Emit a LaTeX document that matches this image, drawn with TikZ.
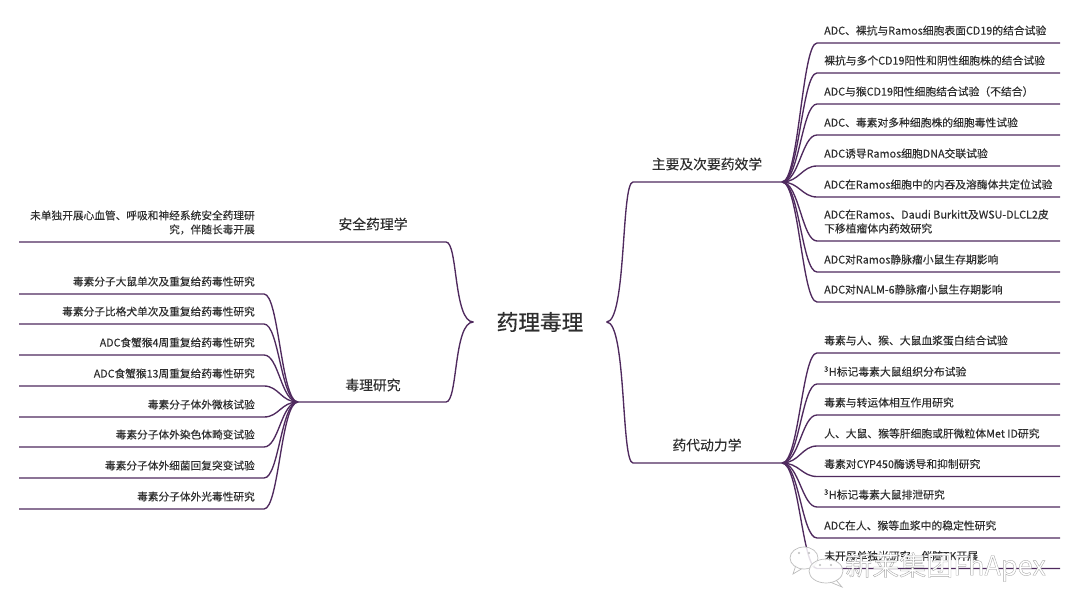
\documentclass[tikz,border=0pt]{standalone}
\usepackage{fontspec}
\setmainfont[FakeBold=0.12]{Noto Sans CJK SC}
\newfontfamily\rootfont[FakeBold=0.35]{Noto Sans CJK SC}
\newfontfamily\markfont{Noto Sans CJK SC}
\usepackage{xcolor}
\usepackage{tikz}
\usetikzlibrary{positioning}
\definecolor{tlink}{HTML}{4F2A5E}
\definecolor{ttext}{HTML}{2E2E2E}
\definecolor{tmark}{HTML}{BDBDBD}

\begin{document}
\begin{tikzpicture}[x=1pt, y=-1pt, text=ttext, node distance=7pt,
  link/.style={draw=tlink, line width=1.35pt},
  rootbox/.style={inner sep=0pt, font=\rootfont\fontsize{21.7}{24}\selectfont},
  branchbox/.style={inner sep=0pt, font=\fontsize{13.8}{16}\selectfont},
  leafbox/.style={inner sep=0pt, font=\fontsize{10.8}{14}\selectfont, align=left},
  sideleaf/.style={leafbox, font=\fontsize{10.7}{14}\selectfont},
  markline/.style={draw=tmark, line width=0.7pt, fill=white, fill opacity=0.85}]
\useasboundingbox (0,0) rectangle (1080,591);
\node[rootbox] (root) at (540,322) {药理毒理};
\coordinate[left=23pt of root] (rootl);
\coordinate[right=23pt of root] (rootr);
\coordinate (endr) at (1060,0);
\coordinate (endl) at (19,0);

% right side, pharmacodynamics
\node[branchbox] (pd) at (707,164) {主要及次要药效学};
\coordinate (bpd) at (633,182);
\coordinate (hubpd) at (782,182);
\draw[link] (rootr) .. controls +(20,0) and +(-12,0) .. (bpd) -- (hubpd);
\coordinate (pd1) at (817,43);
\coordinate (pd2) at (817,73);
\coordinate (pd3) at (817,104);
\coordinate (pd4) at (817,135);
\coordinate (pd5) at (817,166);
\coordinate (pd6) at (817,197);
\coordinate (pd7) at (817,241);
\coordinate (pd8) at (817,272);
\coordinate (pd9) at (817,302);
\node[leafbox, right=of pd1, yshift=12.5pt] (tpd1) {ADC、裸抗与Ramos细胞表面CD19的结合试验};
\node[leafbox, right=of pd2, yshift=12.5pt] (tpd2) {裸抗与多个CD19阳性和阴性细胞株的结合试验};
\node[leafbox, right=of pd3, yshift=12.5pt] (tpd3) {ADC与猴CD19阳性细胞结合试验（不结合）};
\node[leafbox, right=of pd4, yshift=12.5pt] (tpd4) {ADC、毒素对多种细胞株的细胞毒性试验};
\node[leafbox, right=of pd5, yshift=12.5pt] (tpd5) {ADC诱导Ramos细胞DNA交联试验};
\node[leafbox, right=of pd6, yshift=12.5pt] (tpd6) {ADC在Ramos细胞中的内吞及溶酶体共定位试验};
\node[leafbox, right=of pd7, yshift=19.5pt] (tpd7) {ADC在Ramos、Daudi Burkitt及WSU-DLCL2皮\\下移植瘤体内药效研究};
\node[leafbox, right=of pd8, yshift=12.5pt] (tpd8) {ADC对Ramos静脉瘤小鼠生存期影响};
\node[leafbox, right=of pd9, yshift=12.5pt] (tpd9) {ADC对NALM-6静脉瘤小鼠生存期影响};
\draw[link] (hubpd) .. controls +(17,0) and +(-15,0) .. (pd1) -- (pd1 -| endr);
\draw[link] (hubpd) .. controls +(17,0) and +(-15,0) .. (pd2) -- (pd2 -| endr);
\draw[link] (hubpd) .. controls +(17,0) and +(-15,0) .. (pd3) -- (pd3 -| endr);
\draw[link] (hubpd) .. controls +(17,0) and +(-15,0) .. (pd4) -- (pd4 -| endr);
\draw[link] (hubpd) .. controls +(17,0) and +(-15,0) .. (pd5) -- (pd5 -| endr);
\draw[link] (hubpd) .. controls +(17,0) and +(-15,0) .. (pd6) -- (pd6 -| endr);
\draw[link] (hubpd) .. controls +(17,0) and +(-15,0) .. (pd7) -- (pd7 -| endr);
\draw[link] (hubpd) .. controls +(17,0) and +(-15,0) .. (pd8) -- (pd8 -| endr);
\draw[link] (hubpd) .. controls +(17,0) and +(-15,0) .. (pd9) -- (pd9 -| endr);

% right side, pharmacokinetics
\node[branchbox] (pk) at (707,445) {药代动力学};
\coordinate (bpk) at (633,463);
\coordinate (hubpk) at (782,463);
\draw[link] (rootr) .. controls +(20,0) and +(-12,0) .. (bpk) -- (hubpk);
\coordinate (pk1) at (817,353);
\coordinate (pk2) at (817,384);
\coordinate (pk3) at (817,415);
\coordinate (pk4) at (817,446);
\coordinate (pk5) at (817,476.5);
\coordinate (pk6) at (817,507);
\coordinate (pk7) at (817,538);
\coordinate (pk8) at (817,568.5);
\node[leafbox, right=of pk1, yshift=12.5pt] (tpk1) {毒素与人、猴、大鼠血浆蛋白结合试验};
\node[leafbox, right=of pk2, yshift=12.5pt] (tpk2) {\textsuperscript{3}H标记毒素大鼠组织分布试验};
\node[leafbox, right=of pk3, yshift=12.5pt] (tpk3) {毒素与转运体相互作用研究};
\node[leafbox, right=of pk4, yshift=12.5pt] (tpk4) {人、大鼠、猴等肝细胞或肝微粒体Met ID研究};
\node[leafbox, right=of pk5, yshift=12.5pt] (tpk5) {毒素对CYP450酶诱导和抑制研究};
\node[leafbox, right=of pk6, yshift=12.5pt] (tpk6) {\textsuperscript{3}H标记毒素大鼠排泄研究};
\node[leafbox, right=of pk7, yshift=12.5pt] (tpk7) {ADC在人、猴等血浆中的稳定性研究};
\node[leafbox, right=of pk8, yshift=12.5pt] (tpk8) {未开展单独光研究，伴随TK开展};
\draw[link] (hubpk) .. controls +(17,0) and +(-15,0) .. (pk1) -- (pk1 -| endr);
\draw[link] (hubpk) .. controls +(17,0) and +(-15,0) .. (pk2) -- (pk2 -| endr);
\draw[link] (hubpk) .. controls +(17,0) and +(-15,0) .. (pk3) -- (pk3 -| endr);
\draw[link] (hubpk) .. controls +(17,0) and +(-15,0) .. (pk4) -- (pk4 -| endr);
\draw[link] (hubpk) .. controls +(17,0) and +(-15,0) .. (pk5) -- (pk5 -| endr);
\draw[link] (hubpk) .. controls +(17,0) and +(-15,0) .. (pk6) -- (pk6 -| endr);
\draw[link] (hubpk) .. controls +(17,0) and +(-15,0) .. (pk7) -- (pk7 -| endr);
\draw[link] (hubpk) .. controls +(17,0) and +(-15,0) .. (pk8) -- (pk8 -| endr);

% left side, safety
\node[branchbox] (sp) at (373,224) {安全药理学};
\coordinate (bsp) at (446,242);
\coordinate (sp1) at (264,242);
\node[sideleaf, left=9pt of sp1, yshift=19.5pt, align=right] (tsp1) {未单独开展心血管、呼吸和神经系统安全药理研\\究，伴随长毒开展};
\draw[link] (rootl) .. controls +(-20,0) and +(12,0) .. (bsp) -- (bsp -| endl);

% left side, toxicology
\node[branchbox] (tx) at (373,385) {毒理研究};
\coordinate (btx) at (446,402);
\coordinate (hubtx) at (298,402);
\draw[link] (rootl) .. controls +(-20,0) and +(12,0) .. (btx) -- (hubtx);
\coordinate (tx1) at (264,294);
\coordinate (tx2) at (264,324);
\coordinate (tx3) at (264,355);
\coordinate (tx4) at (264,386);
\coordinate (tx5) at (264,417);
\coordinate (tx6) at (264,447);
\coordinate (tx7) at (264,478);
\coordinate (tx8) at (264,509);
\node[sideleaf, left=9pt of tx1, yshift=12.5pt] (ttx1) {毒素分子大鼠单次及重复给药毒性研究};
\node[sideleaf, left=9pt of tx2, yshift=12.5pt] (ttx2) {毒素分子比格犬单次及重复给药毒性研究};
\node[sideleaf, left=9pt of tx3, yshift=12.5pt] (ttx3) {ADC食蟹猴4周重复给药毒性研究};
\node[sideleaf, left=9pt of tx4, yshift=12.5pt] (ttx4) {ADC食蟹猴13周重复给药毒性研究};
\node[sideleaf, left=9pt of tx5, yshift=12.5pt] (ttx5) {毒素分子体外微核试验};
\node[sideleaf, left=9pt of tx6, yshift=12.5pt] (ttx6) {毒素分子体外染色体畸变试验};
\node[sideleaf, left=9pt of tx7, yshift=12.5pt] (ttx7) {毒素分子体外细菌回复突变试验};
\node[sideleaf, left=9pt of tx8, yshift=12.5pt] (ttx8) {毒素分子体外光毒性研究};
\draw[link] (hubtx) .. controls +(-17,0) and +(15,0) .. (tx1) -- (tx1 -| endl);
\draw[link] (hubtx) .. controls +(-17,0) and +(15,0) .. (tx2) -- (tx2 -| endl);
\draw[link] (hubtx) .. controls +(-17,0) and +(15,0) .. (tx3) -- (tx3 -| endl);
\draw[link] (hubtx) .. controls +(-17,0) and +(15,0) .. (tx4) -- (tx4 -| endl);
\draw[link] (hubtx) .. controls +(-17,0) and +(15,0) .. (tx5) -- (tx5 -| endl);
\draw[link] (hubtx) .. controls +(-17,0) and +(15,0) .. (tx6) -- (tx6 -| endl);
\draw[link] (hubtx) .. controls +(-17,0) and +(15,0) .. (tx7) -- (tx7 -| endl);
\draw[link] (hubtx) .. controls +(-17,0) and +(15,0) .. (tx8) -- (tx8 -| endl);

% watermark over the last leaf
\draw[tmark, line width=0.7pt] (796,565) -- (793,574) -- (803,568);
\draw[markline] (804,558) ellipse (14 and 11);
\draw[tmark, line width=0.7pt] (836,580) -- (842,587) -- (830,582);
\draw[markline] (826,571) ellipse (17 and 12);
\fill[tmark] (799,553) circle (1.2) (809,553) circle (1.2) (820,565) circle (1.2) (831,565) circle (1.2);
\node[inner sep=0pt, anchor=west, text=white, font=\markfont\fontsize{27}{30}\selectfont] (mark) at (845,567)
  {\special{pdf:code 2 Tr 0.35 w 0.65 G}新莱集团FhApex\special{pdf:code 0 Tr}};
\end{tikzpicture}
\end{document}
